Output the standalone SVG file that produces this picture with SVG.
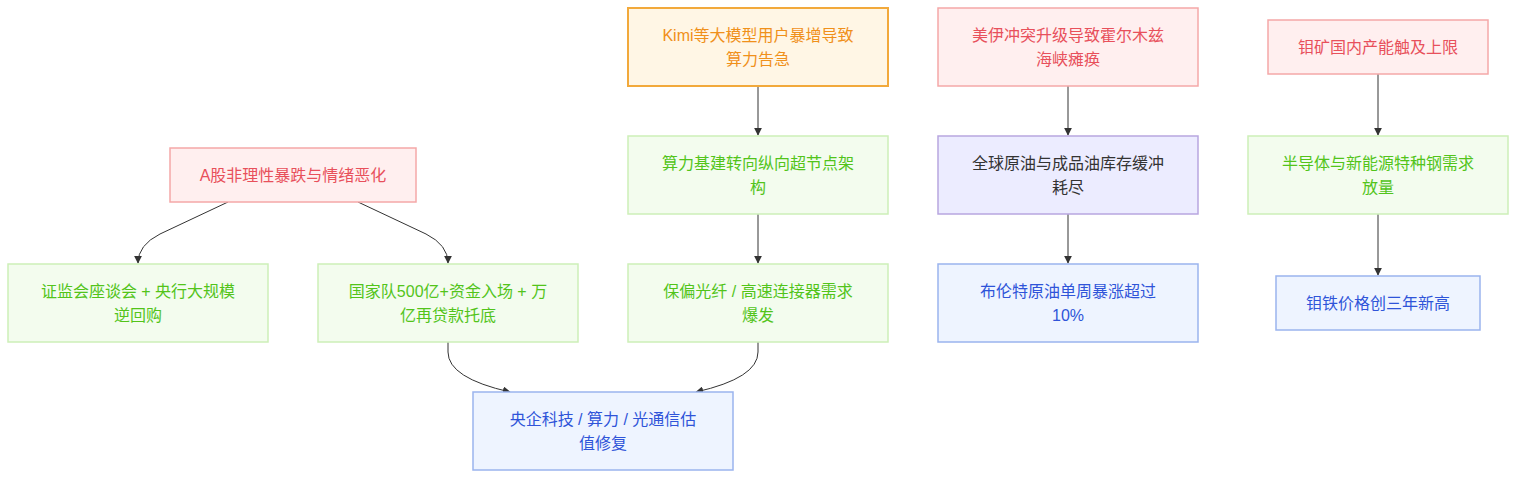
<svg xmlns="http://www.w3.org/2000/svg" width="1516" height="478" viewBox="0 0 1516 478">
<style>
text{font-family:"Liberation Sans","Noto Sans CJK SC",sans-serif;font-size:16px;text-anchor:middle}
.red rect{fill:#FFEFEF;stroke:#F5A8A8;stroke-width:1.5}
.red text{fill:#E8505B}
.green rect{fill:#F3FCEE;stroke:#CDEFB8;stroke-width:1.5}
.green text{fill:#52C41A}
.orange rect{fill:#FFF6E5;stroke:#F2A93B;stroke-width:2}
.orange text{fill:#F0901A}
.blue rect{fill:#EEF4FF;stroke:#9AB4EE;stroke-width:1.5}
.blue text{fill:#2F54D9}
.purple rect{fill:#ECECFF;stroke:#B8A6E0;stroke-width:1.5}
.purple text{fill:#333333}
.edge{fill:none;stroke:#333333;stroke-width:1}
</style>
<defs>
<marker id="arr" viewBox="0 0 10 10" refX="9" refY="5" markerWidth="8" markerHeight="8" orient="auto" markerUnits="userSpaceOnUse">
<path d="M0,0 L10,5 L0,10 z" fill="#333333"/>
</marker>
</defs>
<g id="connectors">
<path class="edge" marker-end="url(#arr)" d="M228,202 L160,234 Q138,245 138,263"/>
<path class="edge" marker-end="url(#arr)" d="M358,202 L426,234 Q448,245 448,263"/>
<path class="edge" marker-end="url(#arr)" d="M448,342 L448,352 Q448,378 510,392"/>
<path class="edge" marker-end="url(#arr)" d="M758,342 L758,352 Q758,378 696,392"/>
<path class="edge" marker-end="url(#arr)" d="M758,86 L758,135"/>
<path class="edge" marker-end="url(#arr)" d="M758,214 L758,263"/>
<path class="edge" marker-end="url(#arr)" d="M1068,86 L1068,135"/>
<path class="edge" marker-end="url(#arr)" d="M1068,214 L1068,263"/>
<path class="edge" marker-end="url(#arr)" d="M1378,74 L1378,135"/>
<path class="edge" marker-end="url(#arr)" d="M1378,214 L1378,275"/>
</g>
<g id="n_a" class="red"><rect x="170" y="148" width="246" height="54"/><text x="293" y="180.5">A股非理性暴跌与情绪恶化</text></g>
<g id="n_zjh" class="green"><rect x="8" y="264" width="260" height="78"/><text x="138" y="296.5">证监会座谈会 + 央行大规模</text><text x="138" y="320.5">逆回购</text></g>
<g id="n_gjd" class="green"><rect x="318" y="264" width="260" height="78"/><text x="448" y="296.5">国家队500亿+资金入场 + 万</text><text x="448" y="320.5">亿再贷款托底</text></g>
<g id="n_yq" class="blue"><rect x="473" y="392" width="260" height="78"/><text x="603" y="424.5">央企科技 / 算力 / 光通信估</text><text x="603" y="448.5">值修复</text></g>
<g id="n_kimi" class="orange"><rect x="628" y="8" width="260" height="78"/><text x="758" y="40.5">Kimi等大模型用户暴增导致</text><text x="758" y="64.5">算力告急</text></g>
<g id="n_slj" class="green"><rect x="628" y="136" width="260" height="78"/><text x="758" y="168.5">算力基建转向纵向超节点架</text><text x="758" y="192.5">构</text></g>
<g id="n_bpgx" class="green"><rect x="628" y="264" width="260" height="78"/><text x="758" y="296.5">保偏光纤 / 高速连接器需求</text><text x="758" y="320.5">爆发</text></g>
<g id="n_my" class="red"><rect x="938" y="8" width="260" height="78"/><text x="1068" y="40.5">美伊冲突升级导致霍尔木兹</text><text x="1068" y="64.5">海峡瘫痪</text></g>
<g id="n_qq" class="purple"><rect x="938" y="136" width="260" height="78"/><text x="1068" y="168.5">全球原油与成品油库存缓冲</text><text x="1068" y="192.5">耗尽</text></g>
<g id="n_blt" class="blue"><rect x="938" y="264" width="260" height="78"/><text x="1068" y="296.5">布伦特原油单周暴涨超过</text><text x="1068" y="320.5">10%</text></g>
<g id="n_mk" class="red"><rect x="1268" y="20" width="220" height="54"/><text x="1378" y="52.5">钼矿国内产能触及上限</text></g>
<g id="n_bdt" class="green"><rect x="1248" y="136" width="260" height="78"/><text x="1378" y="168.5">半导体与新能源特种钢需求</text><text x="1378" y="192.5">放量</text></g>
<g id="n_mt" class="blue"><rect x="1276" y="276" width="204" height="54"/><text x="1378" y="308.5">钼铁价格创三年新高</text></g>
</svg>
